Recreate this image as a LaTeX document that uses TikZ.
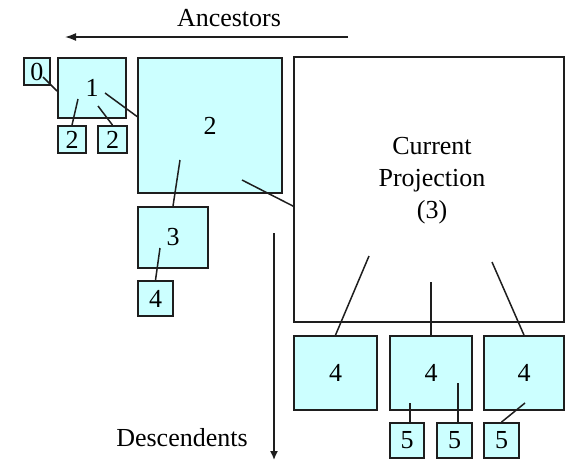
\documentclass[tikz,border=0pt]{standalone}
\usepackage{fontspec}
\setmainfont{Liberation Serif}
\usepackage{xcolor}
\usepackage{tikz}
\usetikzlibrary{arrows.meta,calc}
\definecolor{cBox}{RGB}{204,255,255}
\definecolor{cLine}{RGB}{30,30,30}
\tikzset{
  box/.style={draw=cLine, fill=cBox, line width=1.8pt, inner sep=0pt,
              align=center, font=\fontsize{26}{30}\selectfont},
  cur/.style={box, fill=white},
  lnk/.style={draw=cLine, line width=1.5pt},
  arr/.style={-{Latex[length=11pt,width=8pt]}, draw=cLine, line width=1.5pt},
  lbl/.style={align=center, inner sep=0pt, font=\fontsize{26}{32}\selectfont},
}

\begin{document}
\begin{tikzpicture}[x=1pt,y=-1pt]
  \useasboundingbox (0,0) rectangle (565,461);

  % ancestors
  \node[box, minimum width=26pt, minimum height=27pt] (b0) at (37,71.5) {0};
  \node[box, minimum width=68pt, minimum height=60pt] (b1) at (92,88) {1};
  \node[box, minimum width=28pt, minimum height=27pt] (b2a) at (72,139.5) {2};
  \node[box, minimum width=29pt, minimum height=27pt] (b2b) at (112.5,139.5) {2};
  \node[box, minimum width=144pt, minimum height=135pt] (b2) at (210,125.5) {2};
  \node[box, minimum width=70pt, minimum height=61pt] (b3) at (173,237.5) {3};
  \node[box, minimum width=35pt, minimum height=35pt] (b4) at (155.5,298.5) {4};

  % current projection
  \node[cur, minimum width=270pt, minimum height=265pt] (cp) at (429,189.5) {};
  \node[lbl] (cpl) at (432,181) {Current\\Projection\\(3)};

  % descendents
  \node[box, minimum width=83pt, minimum height=74pt] (b4a) at (335.5,373) {4};
  \node[box, minimum width=82pt, minimum height=74pt] (b4b) at (431,373) {4};
  \node[box, minimum width=80pt, minimum height=74pt] (b4c) at (524,373) {4};
  \node[box, minimum width=34pt, minimum height=35pt] (b5a) at (407,440.5) {5};
  \node[box, minimum width=35pt, minimum height=35pt] (b5b) at (454.5,440.5) {5};
  \node[box, minimum width=35pt, minimum height=35pt] (b5c) at (501.5,440.5) {5};

  % start points inside the parent boxes
  \coordinate (s0) at (43,77);
  \coordinate (s1a) at (78,99);
  \coordinate (s1b) at (98,106);
  \coordinate (s1c) at (105,93);
  \coordinate (s2a) at (180,160);
  \coordinate (s2b) at (242,180);
  \coordinate (s3) at (160,248);
  \coordinate (sca) at (369,256);
  \coordinate (scb) at (431,282);
  \coordinate (scc) at (492,262);
  \coordinate (s4a) at (410,403);
  \coordinate (s4b) at (458,383);
  \coordinate (s4c) at (525,403);

  \draw[lnk] (s0) -- (b1.185);
  \draw[lnk] (s1a) -- (b2a.north);
  \draw[lnk] (s1b) -- (b2b.north);
  \draw[lnk] (s1c) -- (b2.173);
  \draw[lnk] (s2a) -- (b3.north);
  \draw[lnk] (s2b) -- (cp.west |- b3.north);
  \draw[lnk] (s3) -- (b4.north);
  \draw[lnk] (sca) -- (b4a.north);
  \draw[lnk] (scb) -- (b4b.north);
  \draw[lnk] (scc) -- (b4c.north);
  \draw[lnk] (s4a) -- (s4a |- b5a.north);
  \draw[lnk] (s4b) -- (s4b |- b5b.north);
  \draw[lnk] (s4c) -- (b5c.north);

  % direction arrows
  \coordinate (ancR) at (348,37);
  \coordinate (ancL) at (65,37);
  \coordinate (desT) at (274,233);
  \coordinate (desB) at (274,460);
  \draw[arr] (ancR) -- (ancL);
  \draw[arr, -{Latex[length=9pt,width=8pt]}] (desT) -- (desB);
  \node[lbl] (anc) at (229,18) {Ancestors};
  \node[lbl] (des) at (182,438) {Descendents};
\end{tikzpicture}
\end{document}
